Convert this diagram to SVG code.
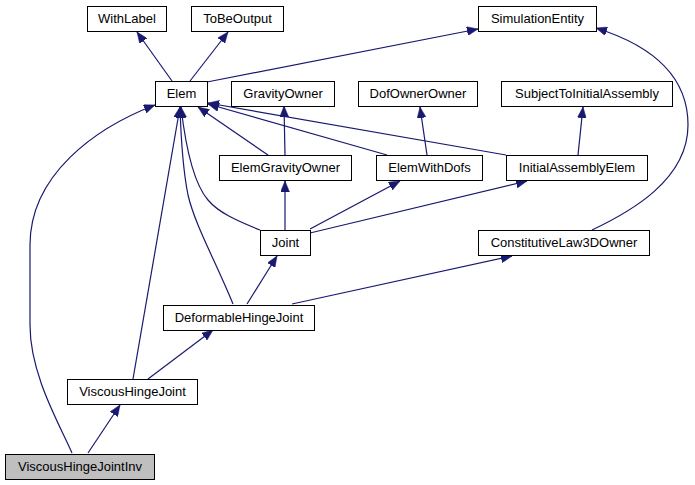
<svg xmlns="http://www.w3.org/2000/svg" width="695" height="485" viewBox="0 0 695 485">
<style>
.n rect{fill:#fff;stroke:#000;stroke-width:1}
.n text{font-family:"Liberation Sans",Arial,Helvetica,sans-serif;font-size:13px;fill:#000;text-anchor:middle}
.e path{fill:none;stroke:#191970;stroke-width:1.2;marker-end:url(#a)}
</style>
<defs>
<marker id="a" viewBox="0 0 11 9" markerWidth="11" markerHeight="9" refX="11" refY="4.5" orient="auto" markerUnits="userSpaceOnUse">
<path d="M0,0 L11,4.5 L0,9 z" fill="#191970" stroke="#191970" stroke-width="0.5"/>
</marker>
</defs>
<rect width="695" height="485" fill="#fff"/>
<g id="edges" class="e">
<path d="M172,81 L137,32"/>
<path d="M190,81 L228,32"/>
<path d="M207,82 L478,29"/>
<path d="M592,230 C630,212 688,180 688,125 C688,75 650,45 596,28"/>
<path d="M285,155 L284,106"/>
<path d="M268,155 L198,107"/>
<path d="M387,155 L208,104"/>
<path d="M506,155 L208,103"/>
<path d="M427,155 L420,107"/>
<path d="M578,155 L583,107"/>
<path d="M285,230 L285,181"/>
<path d="M310,229 L400,181"/>
<path d="M310,233 L527,181"/>
<path d="M260,230 C235,220 218,212 208,200 C195,185 186,150 181,107"/>
<path d="M233,304 C215,260 195,225 188,195 C183,170 181,140 180,107"/>
<path d="M133,379 L180,107"/>
<path d="M72,453 C60,425 30,375 30,325 L30,245 C30,175 95,128 155,105"/>
<path d="M247,304 L277,256"/>
<path d="M292,304 L512,256"/>
<path d="M148,379 L213,330"/>
<path d="M88,453 L120,405"/>
</g>
<g id="WithLabel" class="n"><rect x="87.5" y="6.5" width="79" height="25"/><text x="127" y="22.5">WithLabel</text></g>
<g id="ToBeOutput" class="n"><rect x="191.5" y="6.5" width="92" height="25"/><text x="237.5" y="22.5">ToBeOutput</text></g>
<g id="SimulationEntity" class="n"><rect x="478.5" y="6.5" width="118" height="25"/><text x="537.5" y="22.5">SimulationEntity</text></g>
<g id="Elem" class="n"><rect x="155.5" y="81.5" width="52" height="25"/><text x="181.5" y="97.5">Elem</text></g>
<g id="GravityOwner" class="n"><rect x="231.5" y="81.5" width="103" height="25"/><text x="283" y="97.5">GravityOwner</text></g>
<g id="DofOwnerOwner" class="n"><rect x="358.5" y="81.5" width="119" height="25"/><text x="418" y="97.5">DofOwnerOwner</text></g>
<g id="SubjectToInitialAssembly" class="n"><rect x="501.5" y="81.5" width="171" height="25"/><text x="587" y="97.5">SubjectToInitialAssembly</text></g>
<g id="ElemGravityOwner" class="n"><rect x="219.5" y="155.5" width="132" height="25"/><text x="285.5" y="171.5">ElemGravityOwner</text></g>
<g id="ElemWithDofs" class="n"><rect x="376.5" y="155.5" width="106" height="25"/><text x="429.5" y="171.5">ElemWithDofs</text></g>
<g id="InitialAssemblyElem" class="n"><rect x="506.5" y="155.5" width="141" height="25"/><text x="577" y="171.5">InitialAssemblyElem</text></g>
<g id="Joint" class="n"><rect x="260.5" y="230.5" width="50" height="25"/><text x="285.5" y="246.5">Joint</text></g>
<g id="ConstitutiveLaw3DOwner" class="n"><rect x="478.5" y="230.5" width="171" height="25"/><text x="564" y="246.5">ConstitutiveLaw3DOwner</text></g>
<g id="DeformableHingeJoint" class="n"><rect x="163.5" y="305.5" width="151" height="25"/><text x="239" y="321.5">DeformableHingeJoint</text></g>
<g id="ViscousHingeJoint" class="n"><rect x="67.5" y="379.5" width="130" height="25"/><text x="132.5" y="395.5">ViscousHingeJoint</text></g>
<g id="ViscousHingeJointInv" class="n"><rect x="5.5" y="454.5" width="149" height="25" style="fill:#bfbfbf"/><text x="80" y="470.5">ViscousHingeJointInv</text></g>
</svg>
